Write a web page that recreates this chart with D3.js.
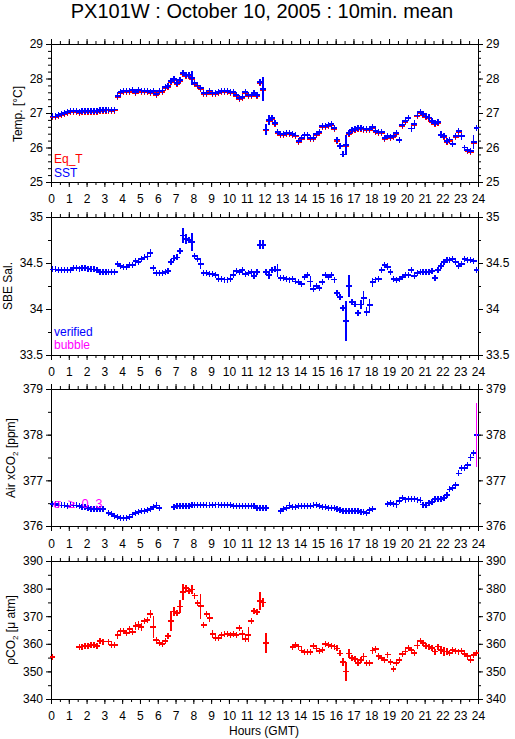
<!DOCTYPE html>
<html><head><meta charset="utf-8">
<script src="https://cdn.jsdelivr.net/npm/d3@7"></script>
<style>
body{margin:0;background:#fff}
svg{display:block}
text{font-family:"Liberation Sans",Arial,Helvetica,sans-serif}
</style>
</head><body>
<svg id="chart" width="515" height="739"></svg>
<script>
// ---------------- DATA (10-minute means, one row per hour, 6 slots each) ----------------
const title = "PX101W : October 10, 2005 : 10min. mean";
const hourLabels = [0,1,2,3,4,5,6,7,8,9,10,11,12,13,14,15,16,17,18,19,20,21,22,23,24];

const tempTicks = [25,26,27,28,29];
const salTicks  = [33.5,34,34.5,35];
const airTicks  = [376,377,378,379];
const pco2Ticks = [340,350,360,370,380,390];

const sst = [
 26.90,26.90,26.95,26.98,27.00,27.03,
 27.05,27.05,27.05,27.03,27.05,27.05,
 27.05,27.05,27.05,27.05,27.08,27.08,
 27.10,27.10,27.08,27.10,27.50,27.60,
 27.63,27.63,27.65,27.67,27.62,27.67,
 27.65,27.63,27.63,27.60,27.63,27.55,
 27.63,27.65,27.75,27.78,27.93,27.98,
 27.87,27.95,28.15,28.10,28.10,28.02,
 27.88,27.80,27.72,27.58,27.58,27.65,
 27.58,27.58,27.60,27.63,27.65,27.63,
 27.60,27.60,27.52,27.44,27.47,27.60,
 27.53,27.53,27.57,27.52,27.90,27.70,
 26.52,26.80,26.85,26.70,26.45,26.40,
 26.40,26.42,26.42,26.40,26.35,26.18,
 26.27,26.37,26.37,26.28,26.28,26.40,
 26.45,26.63,26.63,26.65,26.67,26.56,
 26.23,26.05,25.80,26.07,26.42,26.50,
 26.53,26.56,26.56,26.55,26.53,26.53,
 26.60,26.47,26.44,26.44,26.27,26.33,
 26.30,26.33,26.43,26.22,26.65,26.77,
 26.85,26.55,26.67,26.93,27.02,26.97,
 26.90,26.87,26.77,26.72,26.74,26.37,
 26.33,26.18,26.23,26.10,26.33,26.47,
 26.33,26.00,25.92,25.90,26.15,26.57
];
const sstSd = [
 0,0,0.02,0,0,0,
 0,0,0,0,0,0,
 0,0,0,0,0,0,
 0,0,0,0,0.10,0.03,
 0,0,0,0.03,0,0,
 0,0,0,0,0.03,0,
 0,0,0,0,0.03,0.06,
 0,0.05,0.08,0.03,0.04,0.20,
 0,0,0.04,0,0,0,
 0,0,0,0,0,0,
 0,0,0.02,0.03,0,0.03,
 0,0,0,0,0.10,0.35,
 0.15,0.15,0.04,0.04,0.06,0,
 0,0,0,0,0.06,0,
 0.03,0,0,0.07,0.03,0.08,
 0.03,0,0,0,0,0.04,
 0.06,0.05,0.07,0.28,0.03,0,
 0,0,0,0,0,0,
 0,0,0,0,0,0.03,
 0.03,0.03,0.04,0.07,0.03,0.03,
 0.07,0.07,0.12,0.03,0,0,
 0,0,0.03,0,0.03,0.10,
 0.04,0.03,0.04,0.04,0.05,0.05,
 0.10,0.04,0.03,0.03,0.20,0.05
];
const eqT = [
 26.87,26.87,26.92,26.95,26.97,27.00,
 27.02,27.02,27.02,27.00,27.02,27.02,
 27.02,27.02,27.02,27.02,27.05,27.05,
 27.07,27.07,27.05,27.07,27.47,27.57,
 27.60,27.60,27.62,27.64,27.59,27.64,
 27.62,27.60,27.60,27.57,27.60,27.52,
 27.60,27.62,27.72,27.75,27.90,27.95,
 27.84,27.92,28.12,28.07,28.07,27.99,
 27.85,27.77,27.69,27.55,27.55,27.62,
 27.55,27.55,27.57,27.60,27.62,27.60,
 27.57,27.57,27.49,27.41,27.44,27.57,
 27.50,27.50,27.54,27.49,27.87,27.67,
 26.49,26.77,26.82,26.67,26.42,26.37,
 26.37,26.39,26.39,26.37,26.32,26.15,
 26.24,null,null,26.25,26.25,26.37,
 26.42,26.60,26.60,26.62,26.64,26.53,
 26.20,null,null,26.04,26.39,26.47,
 26.50,26.53,26.53,26.52,26.50,26.50,
 26.57,26.44,26.41,26.41,26.24,null,
 26.27,26.30,26.40,null,26.62,26.74,
 null,null,26.64,26.90,26.99,26.94,
 26.87,26.84,26.74,26.69,26.71,null,
 26.30,26.15,26.20,null,26.30,26.44,
 null,null,25.89,25.87,26.12,null
];
const sal = [
 34.43,34.43,34.42,34.42,34.42,34.42,
 34.42,34.45,34.45,34.44,34.45,34.45,
 34.44,34.43,34.43,34.42,34.40,34.40,
 34.40,34.40,34.40,34.40,34.49,34.47,
 34.46,34.46,34.48,34.48,34.52,34.51,
 34.54,34.56,34.57,34.61,34.45,34.39,
 34.39,34.39,34.40,34.41,34.51,34.55,
 34.56,34.63,34.80,34.76,34.75,34.73,
 34.58,34.54,34.49,34.39,34.39,34.38,
 34.38,34.37,34.33,34.33,34.32,34.32,
 34.33,34.37,34.41,34.40,34.42,34.38,
 34.39,34.40,34.36,34.40,34.70,34.70,
 34.40,34.37,34.42,34.43,34.42,34.34,
 34.34,34.33,34.32,34.33,34.30,34.29,
 34.27,34.35,34.37,34.30,34.22,34.25,
 34.23,34.29,34.37,34.35,34.37,34.32,
 34.17,34.13,34.01,33.87,34.25,34.08,
 34.05,33.96,34.05,34.12,33.97,34.04,
 34.29,34.32,34.33,34.42,34.48,34.46,
 34.40,34.33,34.31,34.33,34.35,34.37,
 34.37,34.42,34.36,34.39,34.40,34.40,
 34.40,34.40,34.41,34.34,34.42,34.47,
 34.51,34.53,34.53,34.54,34.51,34.47,
 34.49,34.54,34.53,34.53,34.52,34.42
];
const salSd = [
 0,0,0,0,0,0,
 0,0,0,0,0,0,
 0,0,0,0,0,0,
 0,0,0,0,0.02,0,
 0,0,0,0.02,0.02,0.03,
 0.02,0,0,0.04,0.03,0,
 0,0,0,0,0.03,0.02,
 0,0.03,0.08,0.05,0.03,0.10,
 0.02,0.02,0.06,0,0,0,
 0,0,0,0,0,0,
 0,0.02,0,0,0,0.02,
 0,0.02,0.02,0.03,0.05,0.05,
 0.02,0.04,0.02,0.02,0.07,0,
 0,0,0,0,0.03,0,
 0,0,0.02,0.06,0.02,0.02,
 0,0.03,0.02,0,0,0.03,
 0.03,0.02,0.03,0.22,0.12,0.03,
 0.03,0.03,0.05,0.08,0.05,0.07,
 0.05,0.03,0.02,0.02,0.02,0.04,
 0.03,0,0.02,0,0,0,
 0,0.02,0.02,0,0,0,
 0,0,0,0.02,0.03,0.02,
 0.02,0.02,0,0.02,0.02,0.02,
 0.02,0.02,0,0,0.03,0.02
];
const airCO2 = [
 376.48,376.48,376.45,376.45,376.45,376.44,
 376.45,376.45,376.45,376.44,376.42,376.42,
 376.40,376.38,376.38,376.37,376.37,376.37,
 null,376.28,376.26,376.22,376.20,376.18,
 376.17,376.18,376.20,376.25,376.29,376.31,
 376.32,376.33,376.35,376.38,376.41,376.45,
 376.40,null,null,null,null,376.42,
 376.43,376.44,376.44,376.44,376.44,376.47,
 376.46,376.46,376.46,376.46,376.45,376.45,
 376.46,376.47,376.47,376.46,376.46,376.46,
 376.46,376.44,376.44,376.44,376.44,376.44,
 376.44,376.43,376.43,376.40,376.39,376.39,
 376.39,null,null,null,null,376.33,
 376.37,376.40,376.45,376.42,376.42,376.43,
 376.44,376.44,376.44,376.44,376.45,376.46,
 376.43,376.42,376.41,376.40,376.40,376.39,
 376.38,376.35,376.32,376.33,376.33,376.33,
 376.33,376.32,376.30,376.30,376.29,376.35,
 376.37,null,null,null,null,376.48,
 376.50,376.48,376.47,376.55,376.62,376.58,
 376.59,376.60,376.60,376.58,376.56,376.47,
 376.45,376.50,376.53,376.60,376.60,376.60,
 376.62,376.68,376.80,376.83,376.90,377.15,
 377.27,377.27,377.33,377.50,377.60,378.00
];
const airSd = [
 0,0,0,0,0,0,
 0,0,0,0,0,0,
 0,0,0,0,0,0,
 0,0,0,0,0,0,
 0,0,0,0,0,0,
 0,0,0,0.02,0.04,0.02,
 0,0,0,0,0,0,
 0,0,0,0,0,0.04,
 0,0,0,0,0,0,
 0,0.02,0,0,0,0,
 0,0,0,0,0,0,
 0,0,0,0,0,0,
 0,0,0,0,0,0,
 0,0,0.07,0,0,0,
 0,0,0,0,0,0,
 0,0,0,0,0,0,
 0,0,0,0,0,0,
 0,0,0,0,0.04,0.02,
 0.02,0,0,0,0,0.04,
 0.03,0,0,0.03,0,0,
 0,0,0,0,0,0,
 0.02,0,0.02,0,0,0,
 0.02,0.02,0.04,0,0,0.05,
 0.04,0.03,0.03,0.08,0.03,0.70
];
const pco2 = [
 355.3,null,null,null,null,null,
 null,null,null,358.7,359.0,359.1,
 359.2,359.7,359.7,359.3,360.9,360.8,
 null,360.8,359.5,359.7,363.3,364.5,
 364.5,363.8,365.3,364.2,366.5,366.7,
 366.2,368.2,368.6,370.7,366.0,361.3,
 360.2,359.8,361.1,362.8,368.3,371.7,
 371.3,373.5,378.7,380.1,379.2,379.7,
 377.5,374.8,373.6,366.7,370.9,369.3,
 363.6,362.2,362.2,363.2,363.4,363.7,
 363.1,363.7,363.3,365.7,363.5,361.6,
 363.3,368.4,371.9,371.4,375.5,375.0,
 360.3,null,null,null,null,null,
 null,null,null,358.9,359.6,359.0,
 357.6,356.9,357.0,357.1,359.3,358.3,
 357.4,357.8,359.8,359.6,359.1,359.0,
 358.3,356.5,353.5,350.0,356.5,354.8,
 354.4,353.1,354.1,355.4,353.0,353.0,
 357.6,358.0,355.5,354.8,354.0,356.1,
 353.4,351.0,352.9,354.1,356.2,357.2,
 358.5,357.7,356.8,359.4,361.0,360.4,
 359.2,359.0,358.4,357.2,359.0,357.7,
 357.2,357.2,356.6,357.8,357.4,357.2,
 357.4,356.4,355.5,354.2,355.8,356.8
];
const pco2Sd = [
 0,0,0,0,0,0,
 0,0,0,0,0,0,
 0,0,0,0,0,0,
 0,0,0,0,1.5,1.2,
 0.8,0,0.8,0,1.5,1.7,
 1.5,0.8,0.5,1.5,4.0,0.8,
 0,0,0.8,1.0,3.5,1.5,
 0.8,2.5,3.0,0.8,0.5,1.5,
 0.8,0.5,4.5,0.8,1.0,1.5,
 1.5,0,0,0,0,0,
 0,0,0,0.8,1.5,0.8,
 2.8,0.8,0.5,0.5,3.2,1.5,
 3.5,0,0,0,0,0,
 0,0,0,0.8,0.5,0,
 0.5,0,0.8,1.0,0.8,0.8,
 0,0,0,0,0,0,
 0,0.8,1.5,3.5,1.5,0.8,
 1.0,0.5,1.0,0.8,0,1.0,
 1.2,1.2,1.2,0.8,0.8,1.0,
 1.2,0,0.5,0.5,0.8,0.5,
 1.2,0.8,0.8,1.2,0,0.5,
 0.5,0,0.5,0.5,0.5,1.5,
 1.5,1.2,0.8,0.8,0.5,0,
 0.5,0.5,1.2,1.2,0.8,0.8
];
const bubbleSigma = 0.3; // sd at or above this is drawn in magenta

// ---------------- DRAWING ----------------
const svg = d3.select("#chart");
const BLUE = "#0000ff", RED = "#ff0000", MAG = "#ff00ff";
const slotStart = d3.range(144).map(i => i / 6);   // 10-minute slots
const x = d3.scaleLinear().domain([0, 24]).range([51, 478]);
const halfHours = d3.range(0, 24.01, 0.5);

svg.append("text").attr("x", 262).attr("y", 18).attr("text-anchor", "middle")
  .attr("font-size", 20).text(title);

const panels = [
  {top: 44,  bottom: 182, domain: [25, 29],     ticks: tempTicks, minor: 0.2},
  {top: 217, bottom: 355, domain: [33.5, 35],   ticks: salTicks,  minor: 0.25},
  {top: 389, bottom: 526, domain: [376, 379],   ticks: airTicks,  minor: 0.5},
  {top: 561, bottom: 699, domain: [340, 390],   ticks: pco2Ticks, minor: 5}
];

function styleAxis(g) {
  g.selectAll("path,line").attr("stroke", "#000").attr("stroke-width", 1);
  g.selectAll("text").attr("font-family", '"Liberation Sans",Arial,sans-serif')
    .attr("font-size", 12).attr("fill", "#000");
}

panels.forEach(p => {
  p.y = d3.scaleLinear().domain(p.domain).range([p.bottom, p.top]);
  const minorVals = d3.range(p.domain[0], p.domain[1] + p.minor / 2, p.minor);
  const g = svg.append("g");
  g.append("g").attr("transform", `translate(0,${p.top})`)
    .call(d3.axisTop(x).tickValues(halfHours).tickSize(3).tickSizeOuter(0).tickFormat(""));
  g.append("g").attr("transform", `translate(0,${p.top})`)
    .call(d3.axisTop(x).tickValues(hourLabels).tickSize(5).tickSizeOuter(0).tickFormat(""));
  g.append("g").attr("transform", `translate(0,${p.bottom})`)
    .call(d3.axisBottom(x).tickValues(halfHours).tickSize(3).tickSizeOuter(0).tickFormat(""));
  g.append("g").attr("transform", `translate(0,${p.bottom})`)
    .call(d3.axisBottom(x).tickValues(hourLabels).tickSize(5).tickSizeOuter(0).tickFormat(""));
  g.append("g").attr("transform", `translate(51,0)`)
    .call(d3.axisLeft(p.y).tickValues(minorVals).tickSize(3).tickSizeOuter(0).tickFormat(""));
  g.append("g").attr("transform", `translate(51,0)`)
    .call(d3.axisLeft(p.y).tickValues(p.ticks).tickSize(5).tickSizeOuter(0).tickPadding(3).tickFormat(d => String(d)));
  g.append("g").attr("transform", `translate(478,0)`)
    .call(d3.axisRight(p.y).tickValues(minorVals).tickSize(3).tickSizeOuter(0).tickFormat(""));
  g.append("g").attr("transform", `translate(478,0)`)
    .call(d3.axisRight(p.y).tickValues(p.ticks).tickSize(5).tickSizeOuter(0).tickPadding(3).tickFormat(d => String(d)));
  g.selectAll("g").call(styleAxis);
});

[203, 376, 548, 720].forEach(yb => {
  svg.append("g").selectAll("text").data(hourLabels).join("text")
    .attr("x", d => x(d) + 0.5).attr("y", yb).attr("text-anchor", "middle")
    .attr("font-size", 12).text(d => d);
});
svg.append("text").attr("x", 264).attr("y", 735).attr("text-anchor", "middle")
  .attr("font-size", 12).text("Hours (GMT)");

function yTitle(xb, yc, build) {
  const t = svg.append("text").attr("transform", `translate(${xb},${yc}) rotate(-90)`)
    .attr("text-anchor", "middle").attr("font-size", 12);
  build(t);
}
yTitle(22, 114, t => t.text("Temp. [°C]"));
yTitle(12, 286, t => t.text("SBE Sal."));
yTitle(15, 458, t => { t.append("tspan").text("Air xCO");
  t.append("tspan").attr("font-size", 8).attr("dy", 3).text("2");
  t.append("tspan").attr("dy", -3).text(" [ppm]"); });
yTitle(15, 630, t => { t.append("tspan").text("ρCO");
  t.append("tspan").attr("font-size", 8).attr("dy", 3).text("2");
  t.append("tspan").attr("dy", -3).text(" [μ atm]"); });

// crosses: horizontal bar centred on the 10-min slot, vertical bar = ±sd
function drawCrosses(panel, vals, sds, color, sigColor) {
  const y = panel.y;
  const g = svg.append("g").attr("shape-rendering", "crispEdges").attr("stroke-width", 1.3);
  vals.forEach((v, i) => {
    if (v == null) return;
    const tc = slotStart[i] + 1 / 12;
    const xc = x(tc), x0 = x(tc - 1 / 6), x1 = x(tc + 1 / 6);
    const yc = y(v);
    const sd = sds ? sds[i] : 0;
    const half = Math.max(Math.abs(y(v + sd) - yc), 3);
    const vcol = (sigColor && sd >= bubbleSigma) ? sigColor : color;
    g.append("line").attr("x1", x0).attr("x2", x1).attr("y1", yc).attr("y2", yc)
      .attr("stroke", color).attr("stroke-width", 1.8);
    g.append("line").attr("x1", xc).attr("x2", xc).attr("y1", yc - half).attr("y2", yc + half)
      .attr("stroke", vcol).attr("stroke-width", sd >= bubbleSigma && sigColor ? 1.8 : 1.3);
  });
}

const [pT, pS, pA, pP] = panels;
drawCrosses(pT, eqT, sstSd.map(() => 0), RED);
drawCrosses(pT, sst, sstSd, BLUE);
drawCrosses(pS, sal, salSd, BLUE);
drawCrosses(pA, airCO2, airSd, BLUE, MAG);
drawCrosses(pP, pco2, pco2Sd, RED);

svg.append("text").attr("x", 53).attr("y", 508).attr("font-size", 13)
  .attr("fill", MAG).attr("letter-spacing", 1.5).text("σ ≥ 0.3");
svg.append("text").attr("x", 54).attr("y", 163).attr("font-size", 12).attr("fill", RED).text("Eq_T");
svg.append("text").attr("x", 54).attr("y", 177).attr("font-size", 12).attr("fill", BLUE).text("SST");
svg.append("text").attr("x", 54).attr("y", 336).attr("font-size", 12).attr("fill", BLUE).text("verified");
svg.append("text").attr("x", 54).attr("y", 349).attr("font-size", 12).attr("fill", MAG).text("bubble");
</script>
</body></html>
